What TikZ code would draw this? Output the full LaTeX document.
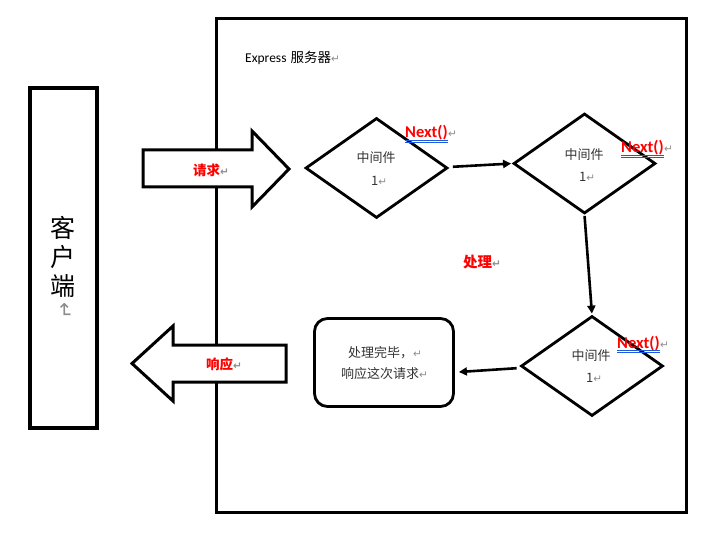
\documentclass[tikz,border=0pt]{standalone}
\usepackage{fontspec}
\setmainfont{Carlito}
\newfontfamily\cjk{Noto Sans CJK SC}
\newfontfamily\dejavu{DejaVu Sans}
\usetikzlibrary{shapes.geometric,arrows.meta,calc}
\newcommand\pmark{{\dejavu\color{black!45}\fontsize{10.5}{10.5}\selectfont ↵}}
\begin{document}
\begin{tikzpicture}[x=1pt,y=-1pt,
  frame/.style={draw=black,line width=3pt},
  blockarrow/.style={draw=black,line width=3pt,fill=white,line join=miter},
  mid/.style={shape=diamond,draw=black,line width=2.8pt,minimum width=142pt,minimum height=100pt,inner sep=0pt},
  midtext/.style={font=\cjk\fontsize{13}{13}\selectfont,text=black!80,inner sep=0pt},
  redlabel/.style={font=\cjk\bfseries\fontsize{13.5}{13.5}\selectfont,text=red,inner sep=0pt},
  nexttext/.style={font=\bfseries\fontsize{16.5}{16.5}\selectfont,text=red,inner sep=0pt,anchor=base west},
  uline/.style={draw={rgb,255:red,30;green,90;blue,220},line width=0.8pt},
  conn/.style={draw=black,line width=2.6pt,-{Triangle[length=8pt,width=8pt]}}
]
\useasboundingbox (0,0) rectangle (703,537);
% server frame
\node[frame,minimum width=470pt,minimum height=493pt,inner sep=0pt] (server) at (451,265.5) {};
\node[anchor=west,inner sep=0pt,font=\fontsize{13.5}{13.5}\selectfont] (srvlabel) at (245,58) {Express\hspace{4pt}{\cjk 服务器}\pmark};
% client frame
\node[draw=black,line width=3.8pt,minimum width=67pt,minimum height=340pt,inner sep=0pt] (client) at (63.5,258) {};
\node[inner sep=0pt,align=center,font=\cjk\fontsize{25}{29}\selectfont] (clienttext) at (63,257) {客\\户\\端};
\node[inner sep=0pt] (clientmark) at (65,311) {\rotatebox{-90}{\dejavu\color{black!45}\fontsize{20}{20}\selectfont ↵}};
% request arrow
\draw[blockarrow] (143,150) -- (252,150) -- (252,131) -- (289,169) -- (252,207) -- (252,187) -- (143,187) -- cycle;
\node[redlabel,anchor=west] (req) at (193,170) {请求\pmark};
% response arrow
\draw[blockarrow] (286,345) -- (173,345) -- (173,326) -- (132,363.5) -- (173,401) -- (173,382) -- (286,382) -- cycle;
\node[redlabel,anchor=west] (resp) at (206,364) {响应\pmark};
% middlewares
\node[mid] (d1) at (376.5,168) {};
\node[mid] (d2) at (584.5,163.5) {};
\node[mid] (d3) at (592,366) {};
\node[midtext] (t1a) at (376,158) {中间件};
\node[midtext,anchor=west] (t1b) at (371,181) {1\pmark};
\node[midtext] (t2a) at (584,155) {中间件};
\node[midtext,anchor=west] (t2b) at (579,177) {1\pmark};
\node[midtext] (t3a) at (591,356) {中间件};
\node[midtext,anchor=west] (t3b) at (586,378) {1\pmark};
% Next() labels
\node[nexttext] (n1) at (405,138) {Next()};
\node[inner sep=0pt,anchor=base west] (n1m) at (n1.base east) {\pmark};
\draw[uline] ($(n1.base west)+(0,2.2)$) -- ($(n1.base east)+(0,2.2)$);
\draw[uline] ($(n1.base west)+(0,4.4)$) -- ($(n1.base east)+(0,4.4)$);
\node[nexttext] (n2) at (621,153) {Next()};
\node[inner sep=0pt,anchor=base west] (n2m) at (n2.base east) {\pmark};
\draw[uline] ($(n2.base west)+(0,2.2)$) -- ($(n2.base east)+(0,2.2)$);
\draw[uline] ($(n2.base west)+(0,4.4)$) -- ($(n2.base east)+(0,4.4)$);
\node[nexttext] (n3) at (617,348) {Next()};
\node[inner sep=0pt,anchor=base west] (n3m) at (n3.base east) {\pmark};
\draw[uline] ($(n3.base west)+(0,2.2)$) -- ($(n3.base east)+(0,2.2)$);
\draw[uline] ($(n3.base west)+(0,4.4)$) -- ($(n3.base east)+(0,4.4)$);
% processing label
\node[redlabel,anchor=west,font=\cjk\bfseries\fontsize{14.5}{14.5}\selectfont] (proc) at (463,262) {处理\pmark};
% done box
\node[draw=black,line width=2.8pt,rounded corners=13pt,minimum width=139pt,minimum height=88pt,inner sep=0pt] (done) at (384,362.5) {};
\node[midtext,anchor=west] (donea) at (348,352.5) {处理完毕，\pmark};
\node[midtext,anchor=west] (doneb) at (341,373.5) {响应这次请求\pmark};
% connectors
\draw[conn,shorten <=4pt,shorten >=1pt] ($(d1.east)+(0,-1)$) -- (d2.west);
\draw[conn,shorten <=1pt,shorten >=1pt] (d2.south) -- (d3.north);
\draw[conn,shorten <=3pt] ($(d3.west)+(0,2)$) -- ($(done.east)+(4,9.5)$);
\end{tikzpicture}
\end{document}
